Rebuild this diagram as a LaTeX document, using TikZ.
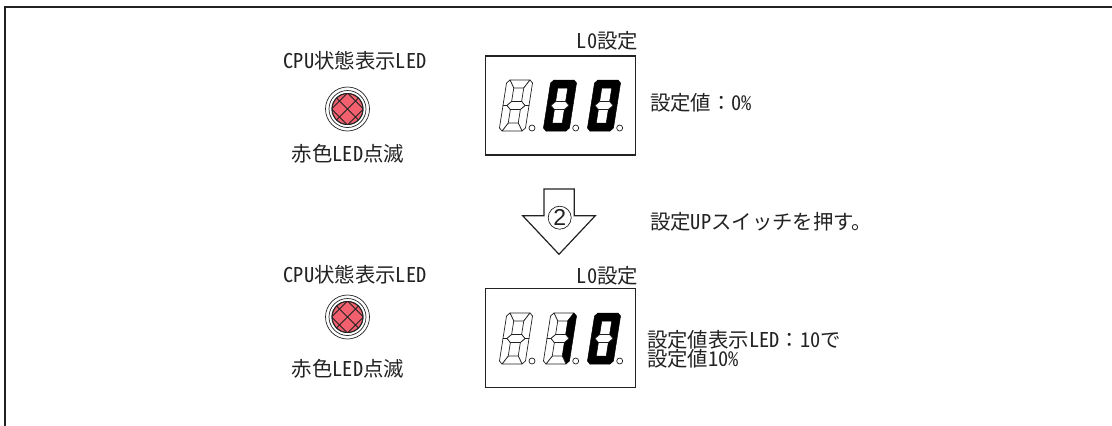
\documentclass[tikz,border=0pt]{standalone}
\usepackage{fontspec}
\setmainfont{Noto Sans CJK JP}[RawFeature=+hwid]
\newfontfamily\fwfont{Noto Sans CJK JP}
\newfontfamily\circfont{Liberation Sans}
\definecolor{ink}{HTML}{222222}
\definecolor{ledred}{HTML}{F2606F}
\tikzset{
  lbl/.style={font=\fontsize{20.4}{22}\selectfont,text=ink,inner sep=0pt,outer sep=0pt},
  framedline/.style={draw=ink,line width=1.8pt},
  dispbox/.style={draw=ink,line width=1.5pt,fill=white,minimum width=150pt,minimum height=99pt,inner sep=0pt},
  segon/.style={fill=black,draw=black,line width=0.5pt,line join=round},
  segoff/.style={fill=white,draw=ink,line width=0.7pt,line join=round},
  dotmark/.style={circle,draw=ink,line width=0.7pt,fill=white,minimum size=6pt,inner sep=0pt},
  ledring/.style={circle,draw=ink,line width=0.7pt,fill=white,inner sep=0pt},
  ledcore/.style={circle,draw=ink,line width=0.9pt,fill=ledred,inner sep=0pt,minimum size=31pt},
  arrowshape/.style={draw=ink,line width=1.2pt,fill=white,line join=miter},
  circledtwo/.style={circle,draw=ink,line width=0.7pt,fill=white,inner sep=0pt,minimum size=23pt,font=\circfont\fontsize{23}{24}\selectfont,text=ink}
}
% x,y of the top-left of the digit's unslanted frame; then a b c d e f g
\newcommand{\sevenseg}[9]{%
  \begin{scope}[shift={(#1,#2)},xslant=0.157]
    \draw[#3] (3,0)--(23,0)--(18,8)--(8,8)--cycle;
    \draw[#4] (23,0)--(26,3)--(26,25.5)--(22,25.5)--(18,21.5)--(18,8)--cycle;
    \draw[#5] (26,25.5)--(26,48)--(23,51)--(18,43)--(18,29.5)--(22,25.5)--cycle;
    \draw[#6] (3,51)--(23,51)--(18,43)--(8,43)--cycle;
    \draw[#7] (0,25.5)--(4,25.5)--(8,29.5)--(8,43)--(3,51)--(0,48)--cycle;
    \draw[#8] (3,0)--(8,8)--(8,21.5)--(4,25.5)--(0,25.5)--(0,3)--cycle;
    \draw[#9] (4,25.5)--(8,21.5)--(18,21.5)--(22,25.5)--(18,29.5)--(8,29.5)--cycle;
  \end{scope}%
}
\newcommand{\ledmark}[2]{%
  \node[ledring,minimum size=44pt] (#1o) at #2 {};
  \node[ledring,minimum size=37pt] (#1m) at #2 {};
  \node[ledcore] (#1) at #2 {};
  \begin{scope}[shift={#2}]
    \clip (0,0) circle (15.5);
    \foreach \k in {-16,0,16}{
      \draw[ink,line width=0.9pt] (-25+\k,-25)--(25+\k,25);
      \draw[ink,line width=0.9pt] (-25+\k,25)--(25+\k,-25);
    }
  \end{scope}
  \draw[ink,line width=0.9pt] #2 circle (15.5);
}
\begin{document}
\begin{tikzpicture}[x=1pt,y=-1pt]
\useasboundingbox (0,0) rectangle (1112,426);
\draw[framedline] (1112,7) -- (5,7) -- (5,426);

% upper group
\node[lbl] (cpuA) at (355,61) {CPU状態表示LED};
\ledmark{ledA}{(347.5,109)}
\node[lbl] (redA) at (348,153.5) {赤色LED点滅};
\node[lbl,anchor=east] (loA) at (638,41) {L0設定};
\node[dispbox] (dispA) at (560.7,105.3) {};
\sevenseg{507}{80}{segoff}{segoff}{segoff}{segoff}{segoff}{segoff}{segoff}
\sevenseg{551}{80}{segon}{segon}{segon}{segon}{segon}{segon}{segoff}
\sevenseg{595}{80}{segon}{segon}{segon}{segon}{segon}{segon}{segoff}
\node[dotmark] (dA1) at (532,128) {};
\node[dotmark] (dA2) at (575.7,128) {};
\node[dotmark] (dA3) at (619.7,128) {};
\node[lbl,anchor=west] (valA) at (650,102.7) {設定値{\fwfont ：}0\%};

% arrow
\draw[arrowshape] (544,189) -- (574.3,189) -- (574.3,215.7) -- (595.3,215.7) -- (559,254.3) -- (522.7,215.7) -- (544,215.7) -- cycle;
\node[circledtwo] (two) at (559.7,217.7) {2};
\node[lbl,anchor=west] (press) at (650,221.7) {設定UPスイッチを押す。};

% lower group
\node[lbl] (cpuB) at (355,275) {CPU状態表示LED};
\ledmark{ledB}{(347.5,317)}
\node[lbl] (redB) at (348,369) {赤色LED点滅};
\node[lbl,anchor=east] (loB) at (638,276) {L0設定};
\node[dispbox] (dispB) at (560.7,338) {};
\sevenseg{507}{313}{segoff}{segoff}{segoff}{segoff}{segoff}{segoff}{segoff}
\sevenseg{551}{313}{segoff}{segon}{segon}{segoff}{segoff}{segoff}{segoff}
\sevenseg{595}{313}{segon}{segon}{segon}{segon}{segon}{segon}{segoff}
\node[dotmark] (dB1) at (532,361) {};
\node[dotmark] (dB2) at (575.7,361) {};
\node[dotmark] (dB3) at (619.7,361) {};
\node[lbl,anchor=west] (valB) at (647,340) {設定値表示LED{\fwfont ：}10で};
\node[lbl,anchor=west] (valC) at (647,359) {設定値10\%};
\end{tikzpicture}
\end{document}
